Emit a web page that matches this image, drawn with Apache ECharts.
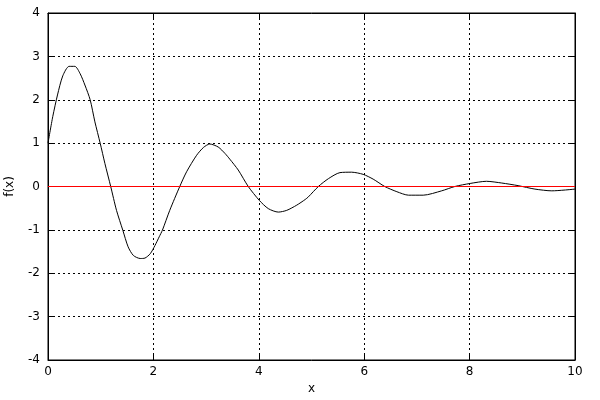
<!DOCTYPE html>
<html>
<head>
<meta charset="utf-8">
<script src="https://cdn.jsdelivr.net/npm/echarts@6/dist/echarts.min.js"></script>
<style>html,body{margin:0;padding:0;background:#fff}#c{width:600px;height:400px}</style>
</head>
<body>
<div id="c"></div>
<script>
// Data
var xs = [0, 0.09, 0.18, 0.28, 0.40, 0.51, 0.61, 0.70, 0.80, 0.89, 0.99, 1.08, 1.19, 1.30, 1.42, 1.52, 1.62, 1.75, 1.84, 1.94, 2.03, 2.11, 2.17, 2.31, 2.50, 2.63, 2.82, 2.95, 3.07, 3.23, 3.36, 3.45, 3.61, 3.80, 4.01, 4.18, 4.37, 4.53, 4.72, 4.88, 4.94, 5.13, 5.32, 5.54, 5.76, 5.98, 6.17, 6.39, 6.62, 6.84, 7.12, 7.47, 7.72, 8.01, 8.32, 8.61, 8.92, 9.24, 9.56, 10.0];
var ys = [1.0, 1.61, 2.11, 2.55, 2.77, 2.77, 2.60, 2.34, 2.0, 1.49, 1.0, 0.53, 0.0, -0.55, -1.01, -1.39, -1.59, -1.66, -1.65, -1.55, -1.36, -1.16, -1.01, -0.55, 0.0, 0.34, 0.72, 0.90, 0.98, 0.91, 0.76, 0.63, 0.38, 0.0, -0.32, -0.51, -0.59, -0.55, -0.43, -0.30, -0.24, 0.0, 0.18, 0.32, 0.33, 0.28, 0.17, 0.0, -0.12, -0.20, -0.20, -0.10, 0.0, 0.07, 0.12, 0.08, 0.02, -0.06, -0.10, -0.06];
var zeroX = [0, 10];
var zeroY = [0, 0];
var xTicks = {min: 0, max: 10, interval: 2};
var yTicks = {min: -4, max: 4, interval: 1};

var curve = xs.map(function (x, i) { return [x, ys[i]]; });
var zeroLine = zeroX.map(function (x, i) { return [x, zeroY[i]]; });

var font = 'DejaVu Sans';
var grid = {type: [2, 3], color: '#000', width: 1};
var chart = echarts.init(document.getElementById('c'), null, {renderer: 'canvas'});
chart.setOption({
  animation: false,
  backgroundColor: '#fff',
  grid: {left: 48, right: 25, top: 13, bottom: 40, containLabel: false, outerBoundsMode: 'none', show: true, borderColor: '#000', borderWidth: 1, backgroundColor: 'transparent'},
  xAxis: [{
    type: 'value', min: xTicks.min, max: xTicks.max, interval: xTicks.interval,
    name: 'x', nameLocation: 'middle', nameGap: 23,
    nameTextStyle: {color: '#000', fontFamily: font, fontSize: 12},
    axisLine: {show: true, onZero: false, lineStyle: {color: '#000', width: 1}},
    axisTick: {show: true, inside: true, length: 5, lineStyle: {color: '#000'}},
    axisLabel: {color: '#000', fontFamily: font, fontSize: 12, margin: 6},
    splitLine: {show: true, lineStyle: grid}
  }, {
    type: 'value', position: 'top', min: xTicks.min, max: xTicks.max, interval: xTicks.interval,
    axisLine: {show: true, onZero: false, lineStyle: {color: '#000', width: 1}},
    axisTick: {show: true, inside: true, length: 5, lineStyle: {color: '#000'}},
    axisLabel: {show: false}, splitLine: {show: false}
  }],
  yAxis: [{
    type: 'value', min: yTicks.min, max: yTicks.max, interval: yTicks.interval,
    name: 'f(x)', nameLocation: 'middle', nameGap: 32, nameRotate: 90,
    nameTextStyle: {color: '#000', fontFamily: font, fontSize: 12},
    axisLine: {show: true, onZero: false, lineStyle: {color: '#000', width: 1}},
    axisTick: {show: true, inside: true, length: 5, lineStyle: {color: '#000'}},
    axisLabel: {color: '#000', fontFamily: font, fontSize: 12, margin: 8},
    splitLine: {show: true, lineStyle: grid}
  }, {
    type: 'value', position: 'right', min: yTicks.min, max: yTicks.max, interval: yTicks.interval,
    axisLine: {show: true, onZero: false, lineStyle: {color: '#000', width: 1}},
    axisTick: {show: true, inside: true, length: 5, lineStyle: {color: '#000'}},
    axisLabel: {show: false}, splitLine: {show: false}
  }],
  series: [{
    type: 'line', data: curve, showSymbol: false, smooth: 0.25,
    lineStyle: {color: '#000', width: 1}, z: 3
  }, {
    type: 'line', data: zeroLine, showSymbol: false,
    lineStyle: {color: '#ff0000', width: 1}, z: 4
  }]
});
</script>
</body>
</html>
